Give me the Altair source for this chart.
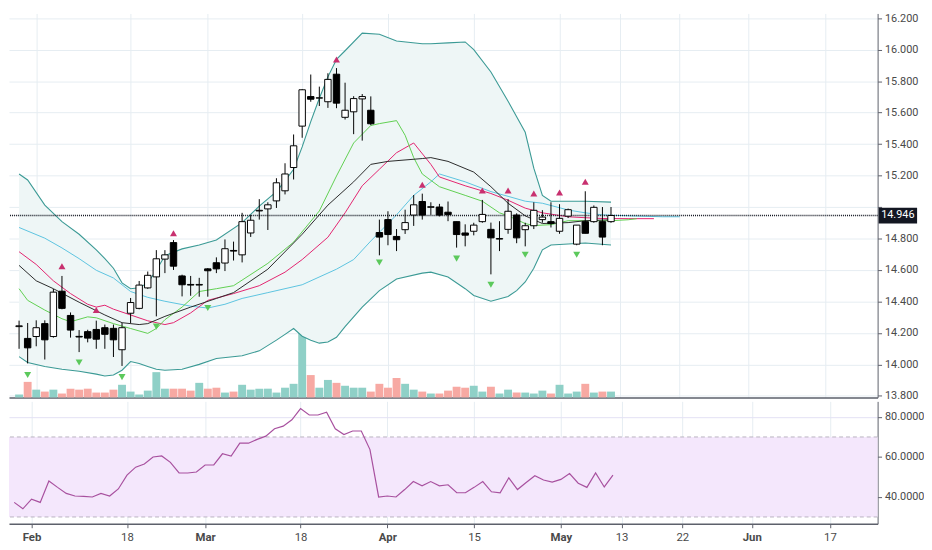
import altair as alt
import pandas as pd

# ---------------- data ----------------
idx = list(range(70))
opens = [14.240,14.165,14.177,14.259,14.177,14.465,14.311,14.178,14.208,14.222,
         14.233,14.229,14.093,14.325,14.356,14.486,14.556,14.669,14.774,14.562,
         14.508,14.504,14.607,14.646,14.644,14.724,14.696,14.835,14.975,14.988,
         15.039,15.103,15.251,15.514,15.702,15.692,15.669,15.844,15.570,15.605,
         15.687,15.615,14.838,14.920,14.813,14.856,14.949,15.035,14.998,15.000,
         14.967,14.907,14.835,14.846,14.907,14.858,14.796,14.858,14.949,14.856,
         14.881,14.920,14.907,14.846,14.942,14.764,14.907,14.907,14.907,14.907]
closes = [14.245,14.105,14.233,14.156,14.459,14.356,14.218,14.174,14.167,14.160,
          14.191,14.156,14.233,14.393,14.504,14.566,14.671,14.696,14.624,14.506,
          14.504,14.508,14.595,14.607,14.735,14.720,14.907,14.916,14.979,15.014,
          15.154,15.210,15.389,15.745,15.685,15.694,15.811,15.660,15.615,15.689,
          15.702,15.529,14.809,14.825,14.792,14.901,15.014,14.949,15.002,14.949,
          14.952,14.825,14.821,14.885,14.953,14.804,14.800,14.973,14.804,14.881,
          14.979,14.936,14.895,14.928,14.983,14.885,14.833,14.998,14.809,14.946]
highs = [14.278,14.263,14.280,14.280,14.479,14.562,14.330,14.218,14.220,14.278,
         14.253,14.253,14.263,14.422,14.530,14.590,14.726,14.726,14.790,14.570,
         14.562,14.550,14.612,14.680,14.794,14.780,14.963,14.950,15.050,15.030,
         15.183,15.278,15.461,15.750,15.842,15.765,15.850,15.883,15.790,15.704,
         15.718,15.703,14.920,14.973,14.860,14.983,15.076,15.085,15.030,15.020,
         15.035,14.907,14.890,14.900,15.045,14.901,14.910,15.050,14.960,14.900,
         15.030,14.980,15.030,15.018,14.990,14.885,15.100,15.010,15.000,15.000]
lows = [14.099,14.006,14.115,14.031,14.170,14.350,14.170,14.078,14.140,14.099,
        14.099,14.047,13.990,14.263,14.350,14.480,14.305,14.580,14.600,14.432,
        14.436,14.430,14.430,14.580,14.593,14.660,14.648,14.810,14.920,14.854,
        14.994,15.080,15.175,15.440,15.669,15.642,15.630,15.628,15.556,15.463,
        15.422,15.520,14.693,14.757,14.720,14.829,14.880,14.920,14.950,14.940,
        14.910,14.742,14.750,14.820,14.900,14.572,14.720,14.830,14.770,14.750,
        14.860,14.900,14.870,14.830,14.930,14.757,14.833,14.900,14.757,14.900]
volumes = [3,16,8,6,8,4,9,8,9,5,
           5,8,13,6,3,7,26,9,9,9,
           7,15,9,10,5,6,13,8,9,9,
           5,10,14,98,23,10,18,15,12,10,
           10,6,14,10,20,14,8,6,4,4,
           7,11,10,12,6,11,4,8,5,5,
           4,7,4,13,4,6,14,5,6,6]
rsi = [37.3,34.1,38.9,37.3,48.0,44.8,41.8,40.5,40.3,40.0,
       41.8,40.5,44.0,50.9,54.9,56.5,60.0,60.5,57.3,52.0,
       52.0,52.5,56.0,56.0,61.6,60.5,66.9,66.9,68.8,70.4,
       74.1,75.4,78.6,84.2,81.0,81.0,82.4,74.1,71.2,73.0,
       73.0,63.7,40.0,40.5,40.0,43.7,47.7,45.6,47.7,45.6,
       46.1,42.1,42.1,44.8,47.7,42.6,42.1,49.6,43.7,47.2,
       50.6,48.5,47.4,48.8,51.7,46.9,44.8,52.0,45.0,50.9]

band_idx = [0,1,3,5,7,9,10,11,12,13,14,15,16,17,19,21,23,26,28,30,31,32,33,34,35,36,37,38,40,42,44,47,48,50,52,53,55,57,58,59,60,61,62,64,66,69]
bb_upper = [15.210,15.172,15.012,14.907,14.827,14.728,14.672,14.611,14.518,14.481,14.487,14.518,14.598,14.691,14.734,14.759,14.790,14.901,15.006,15.098,15.166,15.240,15.382,15.543,15.691,15.827,15.938,15.993,16.105,16.098,16.055,16.037,16.037,16.043,16.049,16.000,15.858,15.672,15.574,15.475,15.247,15.074,15.037,15.037,15.037,15.031]
bb_lower = [14.049,14.012,13.987,13.969,13.956,13.938,13.926,13.932,13.963,14.018,14.006,13.987,13.969,13.963,13.969,14.000,14.037,14.055,14.086,14.154,14.191,14.228,14.179,14.154,14.135,14.142,14.172,14.240,14.364,14.469,14.543,14.580,14.586,14.555,14.481,14.438,14.401,14.432,14.469,14.524,14.611,14.728,14.759,14.765,14.771,14.759]

basis_idx = [0,2,4,7,10,12,14,15,17,20,23,25,29,33,36,39,41,43,47,48,50,53,55,57,59,61,64,66,69]
basis_val = [14.629,14.531,14.481,14.395,14.314,14.265,14.253,14.259,14.305,14.364,14.419,14.456,14.605,14.827,15.012,15.160,15.271,15.290,15.308,15.314,15.290,15.222,15.129,15.024,14.944,14.895,14.901,14.913,14.919]

teeth_idx = [0,2,4,6,8,9,10,11,13,15,17,18,20,22,25,28,31,33,36,38,40,42,44,46,48,49,52,55,57,59,61,64,66,68,71,74]
teeth_val = [14.716,14.635,14.531,14.450,14.382,14.364,14.376,14.351,14.314,14.277,14.253,14.265,14.327,14.407,14.450,14.500,14.586,14.666,14.808,14.963,15.135,15.240,15.345,15.407,15.271,15.191,15.135,15.086,15.043,14.993,14.963,14.938,14.932,14.927,14.926,14.926]

lips_idx = [0,1,3,5,6,8,9,11,13,15,16,17,19,21,23,25,29,32,35,37,39,41,42,44,45,46,47,49,52,54,56,57,59,60,62,64,66,69,71,72]
lips_val = [14.481,14.407,14.345,14.290,14.271,14.302,14.296,14.259,14.228,14.197,14.228,14.284,14.364,14.463,14.481,14.500,14.642,14.777,14.975,15.197,15.407,15.518,15.530,15.549,15.456,15.314,15.210,15.129,15.074,15.037,14.963,14.944,14.895,14.882,14.888,14.913,14.913,14.913,14.919,14.926]

jaw_idx = [0,3,5,7,9,11,13,15,17,20,22,24,26,29,33,37,39,41,44,46,48,49,52,55,57,59,61,64,66,68,71,75,77]
jaw_val = [14.870,14.802,14.740,14.672,14.598,14.549,14.463,14.426,14.401,14.370,14.358,14.382,14.419,14.456,14.506,14.605,14.666,14.784,14.950,15.074,15.160,15.210,15.160,15.098,15.068,15.037,15.024,14.981,14.963,14.950,14.944,14.938,14.938]

up_idx = [5,9,18,37,47,54,57,60,63,66]
up_val = [14.623,14.345,14.833,15.938,15.142,15.105,15.105,15.086,15.092,15.160]
down_idx = [1,7,12,16,22,42,51,55,59,65]
down_val = [13.932,14.012,13.919,14.240,14.358,14.648,14.672,14.506,14.697,14.697]

tick_idx = [2,13,22,33,43,53,63,70,77,85,94]
tick_text = ['Feb','18','Mar','18','Apr','15','May','13','22','Jun','17']
month_idx = [2,22,43,63,85]
price_ticks = [13.8,14.0,14.2,14.4,14.6,14.8,15.0,15.2,15.4,15.6,15.8,16.0,16.2]
rsi_ticks = [40,60,80]
rsi_levels = [70,30]
last_price = 14.946

# ---------------- chart ----------------
FONT = "Liberation Sans Narrow, Roboto, Liberation Sans, sans-serif"
W = 880
H_MAIN = 389
H_RSI = 124
GRID = '#e6edf2'
AXIS_C = '#5d606b'

xs = alt.Scale(domain=[-0.6, 99.5], nice=False, zero=False)
ys = alt.Scale(domain=[13.79, 16.23], nice=False, zero=False)
rs = alt.Scale(domain=[26.6, 87.8], nice=False, zero=False)

x_axis_main = alt.Axis(values=tick_idx, labels=False, ticks=False, title=None,
                       grid=True, gridColor=GRID, domainColor=AXIS_C, domainWidth=1.5)
label_expr = "[" + ",".join(repr(t) for t in tick_text) + "][indexof([" + \
    ",".join(str(v) for v in tick_idx) + "], datum.value)]"
weight_cond = {"condition": {"test": "indexof([" + ",".join(str(v) for v in month_idx) + "], datum.value) >= 0",
                             "value": "bold"}, "value": "normal"}
x_axis_rsi = alt.Axis(values=tick_idx, labelExpr=label_expr, labelFontWeight=weight_cond,
                      title=None, grid=True, gridColor=GRID, tickSize=4, tickColor=AXIS_C,
                      domainColor=AXIS_C, domainWidth=1.5, labelPadding=4, labelFontSize=11.5)
price_axis = alt.Axis(orient='right', values=price_ticks, title=None, grid=True, gridColor=GRID,
                      labelExpr=f"abs(datum.value - {last_price}) < 0.08 ? '' : format(datum.value, '.3f')",
                      tickSize=4, tickColor=AXIS_C, domainColor=AXIS_C, labelPadding=3)
rsi_axis = alt.Axis(orient='right', values=rsi_ticks, format='.4f', title=None, grid=True,
                    gridColor='#e3e1f4', tickSize=4, tickColor=AXIS_C, domainColor=AXIS_C, labelPadding=3)

X = alt.X('i:Q', scale=xs, axis=x_axis_main)
XR = alt.X('i:Q', scale=xs, axis=x_axis_rsi)


def PY(field):
    return alt.Y(field + ':Q', scale=ys, axis=price_axis)


def RY(field):
    return alt.Y(field + ':Q', scale=rs, axis=rsi_axis)


candles = pd.DataFrame({'i': idx, 'open': opens, 'high': highs, 'low': lows,
                        'close': closes, 'vol': volumes})
band = pd.DataFrame({'i': band_idx, 'up': bb_upper, 'lo': bb_lower})


def line_chart(ix, vals, color):
    df = pd.DataFrame({'i': ix, 'p': vals})
    return alt.Chart(df).mark_line(color=color, strokeWidth=1).encode(x=X, y=PY('p'))


up_cond = 'datum.close >= datum.open'

volume = alt.Chart(candles).mark_bar(size=8).encode(
    x=X,
    y=alt.Y('vol:Q', scale=alt.Scale(domain=[0, 395], nice=False), axis=None),
    color=alt.condition(up_cond, alt.value('#8fd0c7'), alt.value('#f7a9a3')),
)

area = alt.Chart(band).mark_area(color='#eef6f6', opacity=1).encode(x=X, y=PY('up'), y2='lo')
up_line = alt.Chart(band).mark_line(color='#3b9a95', strokeWidth=1.1).encode(x=X, y=PY('up'))
lo_line = alt.Chart(band).mark_line(color='#3b9a95', strokeWidth=1.1).encode(x=X, y=PY('lo'))

jaw = line_chart(jaw_idx, jaw_val, '#5bc3e0')
teeth = line_chart(teeth_idx, teeth_val, '#e3246f')
lips = line_chart(lips_idx, lips_val, '#5fcf50')
basis = line_chart(basis_idx, basis_val, '#2a2a2a')

price_df = pd.DataFrame({'p': [last_price], 'top': [last_price + 0.05], 'bot': [last_price - 0.05],
                         'label': [f"{last_price:.3f}"]})
price_rule = alt.Chart(price_df).mark_rule(color='#131722', strokeDash=[1, 1], strokeWidth=1.3).encode(y=PY('p'))

wicks = alt.Chart(candles).mark_rule(color='black', strokeWidth=1).encode(x=X, y=PY('low'), y2='high')
bodies = alt.Chart(candles).mark_bar(size=6.5, stroke='black', strokeWidth=1).encode(
    x=X, y=PY('open'), y2='close',
    fill=alt.condition(up_cond, alt.value('white'), alt.value('black')))

up_pts = alt.Chart(pd.DataFrame({'i': up_idx, 'p': up_val})).mark_point(
    shape='triangle-up', filled=True, size=50, color='#c8306f', opacity=1).encode(x=X, y=PY('p'))
down_pts = alt.Chart(pd.DataFrame({'i': down_idx, 'p': down_val})).mark_point(
    shape='triangle-down', filled=True, size=50, color='#5cc95c', opacity=1).encode(x=X, y=PY('p'))

label_box = alt.Chart(price_df).mark_rect(color='#131722').encode(
    x=alt.value(W + 1), x2=alt.value(W + 40), y=PY('top'), y2='bot')
label_txt = alt.Chart(price_df).mark_text(color='white', fontSize=11, font=FONT,
                                          align='center', baseline='middle').encode(
    x=alt.value(W + 20.5), y=PY('p'), text='label:N')

price_layer = alt.layer(area, up_line, lo_line, jaw, teeth, lips, basis, price_rule,
                        wicks, bodies, up_pts, down_pts, label_box, label_txt)
main = alt.layer(volume, price_layer).resolve_scale(y='independent').properties(width=W, height=H_MAIN)

rsi_df = pd.DataFrame({'i': idx, 'r': rsi})
lvl_df = pd.DataFrame({'top': [rsi_levels[0]], 'bot': [rsi_levels[1]]})
rsi_band = alt.Chart(lvl_df).mark_rect(color='#f4e7fc').encode(y=RY('top'), y2='bot')
rsi_rules = alt.Chart(pd.DataFrame({'r': rsi_levels})).mark_rule(
    color='#b9b3c0', strokeDash=[4, 3], strokeWidth=1).encode(y=RY('r'))
rsi_line = alt.Chart(rsi_df).mark_line(color='#a8519f', strokeWidth=1.2).encode(x=XR, y=RY('r'))
rsi_chart = alt.layer(rsi_band, rsi_rules, rsi_line).properties(width=W, height=H_RSI)

chart = alt.vconcat(main, rsi_chart, spacing=0).properties(
    padding={"left": 0, "top": 0, "right": 0, "bottom": 0}
).configure_view(strokeWidth=0).configure_axis(
    labelFont=FONT, labelFontSize=11, labelColor='#4a4a4a'
)

chart.save("out.html", embed_options={"renderer": "svg", "actions": False})
